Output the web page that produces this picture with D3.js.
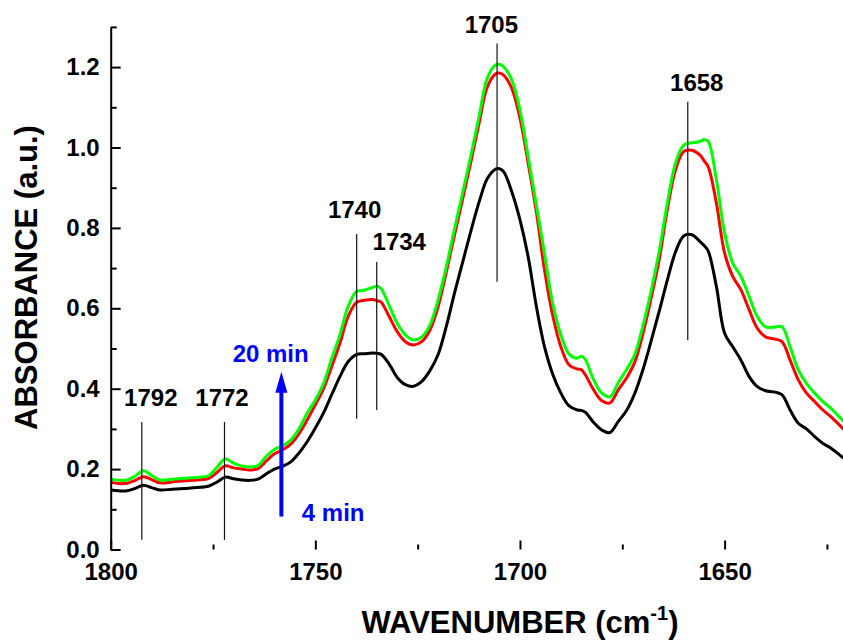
<!DOCTYPE html>
<html>
<head>
<meta charset="utf-8">
<script src="https://cdn.jsdelivr.net/npm/d3@7"></script>
<style>
  html, body { margin: 0; padding: 0; background: #fff; }
  svg { display: block; }
  text { font-family: Arial, "Liberation Sans", sans-serif; font-weight: bold; }
</style>
</head>
<body>
<svg id="chart" width="843" height="642"></svg>
<script>
// ---- data ----
const wavenumbers = [1800,1798,1796,1794,1792,1790,1788,1785,1782,1779,1776,1774,1772,1770,1768,1766,1764,1762,1760,1758,1756,1754,1752,1750,1748,1746,1744,1742,1740,1738,1736,1735,1734,1732,1730,1728,1726,1724,1722,1720,1718,1716,1714,1712,1710,1708,1706,1705,1704,1702,1700,1698,1696,1694,1692,1690,1688,1686,1685,1684,1682,1680,1678,1676,1674,1672,1670,1668,1666,1664,1662,1660,1658,1656,1655,1654,1652,1650,1648,1646,1644,1642,1640,1638,1636,1634,1632,1630,1628,1626,1624,1622,1620];

const black4min = [0.148,0.146,0.146,0.152,0.160,0.154,0.148,0.150,0.152,0.154,0.158,0.168,0.180,0.176,0.173,0.172,0.175,0.188,0.200,0.207,0.218,0.240,0.268,0.302,0.340,0.385,0.430,0.467,0.485,0.487,0.489,0.488,0.486,0.462,0.428,0.410,0.406,0.418,0.445,0.485,0.555,0.638,0.715,0.792,0.864,0.922,0.946,0.947,0.940,0.890,0.820,0.728,0.605,0.504,0.436,0.389,0.357,0.347,0.346,0.341,0.316,0.297,0.291,0.318,0.345,0.387,0.446,0.517,0.592,0.670,0.740,0.780,0.783,0.766,0.756,0.742,0.654,0.538,0.504,0.471,0.430,0.405,0.395,0.392,0.385,0.347,0.314,0.300,0.281,0.264,0.252,0.236,0.220];

const redMid = [0.167,0.164,0.165,0.172,0.181,0.174,0.166,0.168,0.171,0.173,0.177,0.192,0.208,0.203,0.200,0.198,0.201,0.220,0.238,0.248,0.262,0.288,0.322,0.360,0.400,0.455,0.513,0.579,0.614,0.620,0.622,0.619,0.616,0.580,0.542,0.517,0.509,0.517,0.546,0.604,0.690,0.782,0.872,0.964,1.060,1.150,1.183,1.185,1.180,1.147,1.073,0.961,0.840,0.695,0.582,0.504,0.459,0.449,0.447,0.434,0.397,0.370,0.365,0.397,0.426,0.465,0.535,0.623,0.720,0.845,0.944,0.990,0.993,0.981,0.967,0.952,0.861,0.737,0.679,0.646,0.596,0.550,0.529,0.524,0.517,0.471,0.422,0.389,0.368,0.347,0.330,0.310,0.290];

const green20min = [0.175,0.172,0.173,0.183,0.196,0.184,0.173,0.175,0.177,0.179,0.184,0.205,0.225,0.215,0.208,0.205,0.209,0.232,0.249,0.258,0.272,0.300,0.339,0.372,0.413,0.475,0.534,0.604,0.641,0.645,0.652,0.655,0.650,0.608,0.563,0.534,0.521,0.529,0.558,0.621,0.703,0.797,0.888,0.980,1.077,1.172,1.205,1.207,1.201,1.168,1.093,0.977,0.857,0.735,0.612,0.534,0.486,0.476,0.481,0.472,0.422,0.389,0.380,0.415,0.447,0.484,0.555,0.641,0.741,0.861,0.961,1.006,1.012,1.015,1.020,1.015,0.919,0.787,0.712,0.679,0.629,0.579,0.554,0.553,0.554,0.504,0.447,0.413,0.389,0.368,0.351,0.330,0.310];

const seriesColors = ["#000000", "#ff0000", "#00ff00"];

const xMajorTicks = [1800, 1750, 1700, 1650];
const xMinorTicks = [1775, 1725, 1675, 1625];
const yMajorTicks = [0, 0.2, 0.4, 0.6, 0.8, 1.0, 1.2];
const yMinorTicks = [0.1, 0.3, 0.5, 0.7, 0.9, 1.1, 1.3];

// peak marker lines: position, bottom, top
const markerPos    = [1792.4, 1772.2, 1739.9, 1735.0, 1705.6, 1659.0];
const markerBottom = [0.024, 0.024, 0.325, 0.347, 0.666, 0.521];
const markerTop    = [0.317, 0.317, 0.785, 0.715, 1.259, 1.114];
// peak labels
const peakLabels = ["1792", "1772", "1740", "1734", "1705", "1658"];
const peakLabelX = [1790.2, 1772.8, 1740.4, 1729.5, 1707.0, 1656.8];
const peakLabelY = [0.357, 0.357, 0.825, 0.745, 1.285, 1.141];

// time arrow
const arrowX = 1758.3, arrowFrom = 0.082, arrowTo = 0.442;
const timeLabels = ["20 min", "4 min"];
const timeLabelX = [1770.2, 1753.3];
const timeLabelY = [0.466, 0.071];

// ---- chart ----
const svg = d3.select("#chart");
const x = d3.scaleLinear().domain([1800, 1620]).range([110.7, 847.4]);
const y = d3.scaleLinear().domain([0, 1.3]).range([549.5, 26.9]);

const rows = wavenumbers.map((w, i) => ({w, v: [black4min[i], redMid[i], green20min[i]]}));
const line = k => d3.line().x(d => x(d.w)).y(d => y(d.v[k])).curve(d3.curveCatmullRom.alpha(0.5));

[0, 1, 2].forEach(k => {
  svg.append("path").datum(rows)
    .attr("fill", "none").attr("stroke", seriesColors[k])
    .attr("stroke-width", 3).attr("stroke-linejoin", "round")
    .attr("d", line(k));
});

// marker lines
svg.append("g").selectAll("line").data(markerPos).join("line")
  .attr("x1", d => x(d)).attr("x2", d => x(d))
  .attr("y1", (d, i) => y(markerBottom[i])).attr("y2", (d, i) => y(markerTop[i]))
  .attr("stroke", "#111").attr("stroke-width", 1.2);

svg.append("g").selectAll("text").data(peakLabels).join("text")
  .attr("x", (d, i) => x(peakLabelX[i])).attr("y", (d, i) => y(peakLabelY[i]))
  .attr("text-anchor", "middle").attr("font-size", 24).attr("fill", "#000")
  .text(d => d);

// arrow
svg.append("line")
  .attr("x1", x(arrowX)).attr("x2", x(arrowX))
  .attr("y1", y(arrowFrom)).attr("y2", y(arrowTo) + 18)
  .attr("stroke", "#0000ff").attr("stroke-width", 4);
svg.append("path")
  .attr("d", `M${x(arrowX)},${y(arrowTo)} L${x(arrowX) - 6},${y(arrowTo) + 21} L${x(arrowX) + 6},${y(arrowTo) + 21} Z`)
  .attr("fill", "#0000ff");
svg.append("g").selectAll("text").data(timeLabels).join("text")
  .attr("x", (d, i) => x(timeLabelX[i])).attr("y", (d, i) => y(timeLabelY[i]))
  .attr("font-size", 24).attr("fill", "#0000ff")
  .text(d => d);

// axes
svg.append("g").attr("transform", `translate(${x(1800)},0)`)
  .call(d3.axisLeft(y).tickValues(yMajorTicks).tickSize(-10).tickSizeOuter(0).tickPadding(11).tickFormat(d3.format(".1f")));
const yMinor = svg.append("g").attr("transform", `translate(${x(1800)},0)`)
  .call(d3.axisLeft(y).tickValues(yMinorTicks).tickSize(-6).tickFormat(""));
yMinor.select(".domain").remove();

const xAxis = svg.append("g").attr("transform", `translate(0,${y(0)})`)
  .call(d3.axisBottom(x).tickValues(xMajorTicks).tickSize(-9).tickPadding(13).tickFormat(d3.format("d")));
xAxis.select(".domain").remove();
const xMinor = svg.append("g").attr("transform", `translate(0,${y(0)})`)
  .call(d3.axisBottom(x).tickValues(xMinorTicks).tickSize(-5).tickFormat(""));
xMinor.select(".domain").remove();

svg.selectAll(".tick line, .domain").attr("stroke", "#000").attr("stroke-width", 2);
svg.selectAll(".tick text").attr("font-size", 24).attr("fill", "#000")
  .attr("font-family", "Arial, 'Liberation Sans', sans-serif").attr("font-weight", "bold");

// axis titles
svg.append("text")
  .attr("transform", `translate(37,277.5) rotate(-90)`)
  .attr("text-anchor", "middle").attr("font-size", 31).attr("fill", "#000")
  .text("ABSORBANCE (a.u.)");

const xt = svg.append("text")
  .attr("x", 520).attr("y", 633)
  .attr("text-anchor", "middle").attr("font-size", 31).attr("fill", "#000");
xt.append("tspan").text("WAVENUMBER (cm");
xt.append("tspan").attr("font-size", 20).attr("dy", -13).text("-1");
xt.append("tspan").attr("dy", 13).text(")");
</script>
</body>
</html>
